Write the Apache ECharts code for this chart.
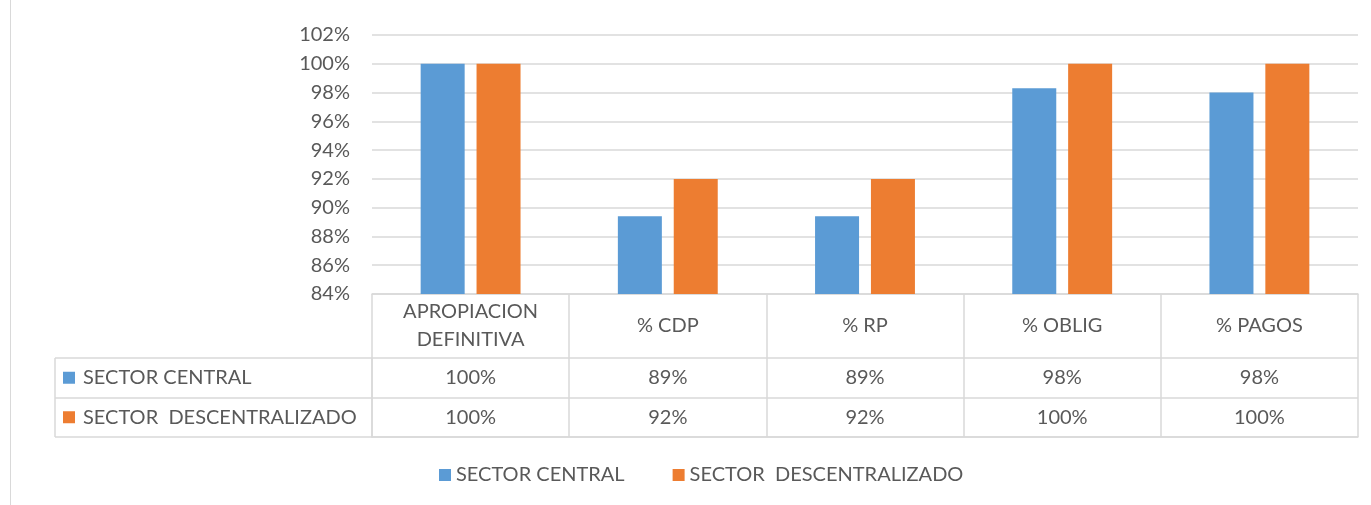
<!DOCTYPE html>
<html>
<head>
<meta charset="utf-8">
<script src="https://cdn.jsdelivr.net/npm/echarts@6/dist/echarts.min.js"></script>
<style>
  html, body { margin: 0; padding: 0; background: #fff; }
  #chart { width: 1371px; height: 505px; }
</style>
</head>
<body>
<div id="chart"></div>
<script>
const categories = ['APROPIACION\nDEFINITIVA', '% CDP', '% RP', '% OBLIG', '% PAGOS'];
const seriesNames = ['SECTOR CENTRAL', 'SECTOR  DESCENTRALIZADO'];
const central = [100, 89.4, 89.4, 98.3, 98.0];
const descentralizado = [100, 92.0, 92.0, 100, 100];
const yTicks = { min: 84, max: 102, interval: 2 };

const BLUE = '#5b9bd5';
const ORANGE = '#ed7d31';
const GRID = '#d9d9d9';
const TEXT = '#595959';
const FONT = 'Lato';
const FS = 20;

const chart = echarts.init(document.getElementById('chart'));

// table cells: [column, row, value]
let cells = [];
for (let i = 0; i < categories.length; i++) {
  cells.push([i, seriesNames[0], central[i]]);
  cells.push([i, seriesNames[1], descentralizado[i]]);
}

const option = {
  animation: false,
  textStyle: { fontFamily: FONT, color: TEXT },
  grid: [
    { left: 372, right: 13, top: 35, height: 259 },
    { left: 372, right: 13, top: 358, height: 79 }
  ],
  legend: {
    data: seriesNames,
    left: 434,
    top: 460,
    icon: 'rect',
    itemWidth: 12,
    itemHeight: 12,
    itemGap: 48,
    textStyle: { fontFamily: FONT, fontSize: FS, color: TEXT }
  },
  xAxis: [
    {
      type: 'category',
      gridIndex: 0,
      data: categories,
      axisLine: { lineStyle: { color: GRID, width: 1.5 } },
      axisTick: { show: true, length: 64, lineStyle: { color: GRID, width: 1.5 } },
      axisLabel: {
        interval: 0,
        margin: 32,
        verticalAlign: 'middle',
        lineHeight: 28,
        fontSize: FS,
        fontFamily: FONT,
        color: TEXT
      }
    },
    {
      type: 'category',
      gridIndex: 1,
      data: categories,
      axisLine: { lineStyle: { color: GRID, width: 1.5 } },
      axisTick: { show: false },
      axisLabel: { show: false },
      splitLine: { show: true, interval: 0, lineStyle: { color: GRID, width: 1.5 } }
    }
  ],
  yAxis: [
    {
      type: 'value',
      gridIndex: 0,
      min: yTicks.min,
      max: yTicks.max,
      interval: yTicks.interval,
      axisLine: { show: false },
      axisTick: { show: false },
      axisLabel: {
        margin: 22,
        fontSize: FS,
        fontFamily: FONT,
        color: TEXT,
        formatter: '{value}%'
      },
      splitLine: { lineStyle: { color: GRID, width: 1.5 } }
    },
    {
      type: 'category',
      gridIndex: 1,
      inverse: true,
      data: seriesNames,
      axisLine: { show: true, lineStyle: { color: GRID, width: 1.5 } },
      axisTick: { show: true, length: 317, lineStyle: { color: GRID, width: 1.5 } },
      splitLine: { show: true, interval: 0, lineStyle: { color: GRID, width: 1.5 } },
      axisLabel: {
        align: 'left',
        margin: 309,
        fontSize: FS,
        fontFamily: FONT,
        color: TEXT,
        formatter: function (v) {
          return (v === seriesNames[0] ? '{b|}' : '{o|}') + '{g|}' + v;
        },
        rich: {
          b: { backgroundColor: BLUE, width: 12, height: 12 },
          o: { backgroundColor: ORANGE, width: 12, height: 12 },
          g: { width: 8 }
        }
      }
    }
  ],
  series: [
    {
      name: seriesNames[0],
      type: 'bar',
      xAxisIndex: 0,
      yAxisIndex: 0,
      data: central,
      barWidth: 44,
      barGap: '27%',
      itemStyle: { color: BLUE }
    },
    {
      name: seriesNames[1],
      type: 'bar',
      xAxisIndex: 0,
      yAxisIndex: 0,
      data: descentralizado,
      barWidth: 44,
      itemStyle: { color: ORANGE }
    },
    {
      type: 'scatter',
      xAxisIndex: 1,
      yAxisIndex: 1,
      data: cells,
      symbolSize: 0,
      silent: true,
      encode: { x: 0, y: 1 },
      itemStyle: { opacity: 1 },
      label: {
        show: true,
        position: 'inside',
        fontSize: FS,
        fontFamily: FONT,
        color: TEXT,
        opacity: 1,
        formatter: function (p) { return Math.round(p.value[2]) + '%'; }
      }
    }
  ],
  graphic: [
    {
      type: 'line',
      shape: { x1: 55, y1: 358, x2: 55, y2: 437 },
      style: { stroke: GRID, lineWidth: 1.5 }
    },
    {
      type: 'rect',
      shape: { x: 10.5, y: -2, width: 1370, height: 510 },
      style: { fill: 'none', stroke: GRID, lineWidth: 1 }
    }
  ]
};

chart.setOption(option);
</script>
</body>
</html>
